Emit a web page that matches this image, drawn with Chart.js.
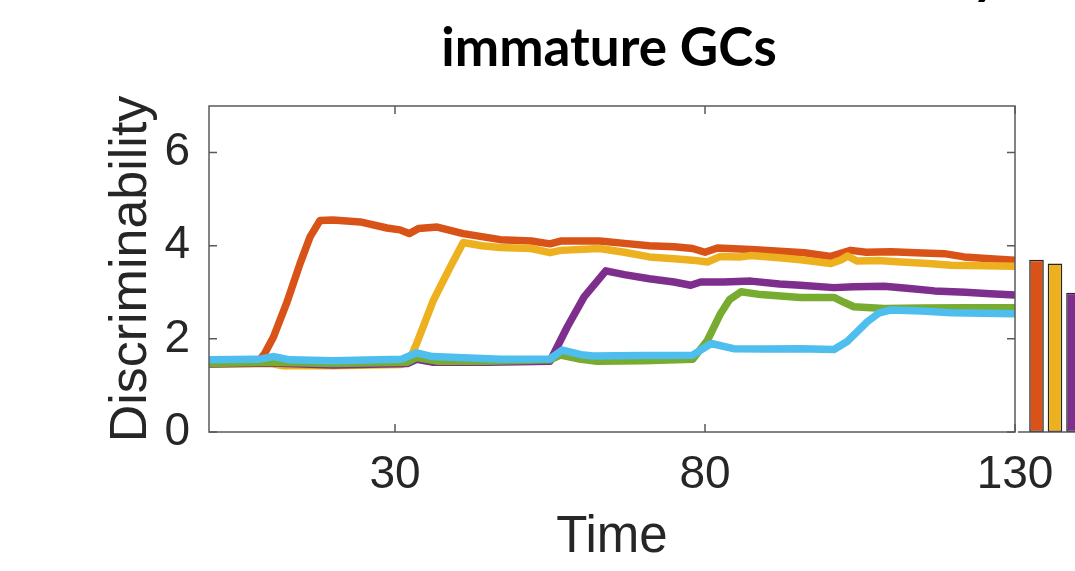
<!DOCTYPE html>
<html>
<head>
<meta charset="utf-8">
<script src="https://cdn.jsdelivr.net/npm/chart.js@4.4.0/dist/chart.umd.min.js"></script>
<style>
html, body { margin: 0; padding: 0; background: #fff; overflow: hidden; }
#wrap { position: relative; width: 1075px; height: 571px; overflow: hidden; }
.titulo { position: absolute; font-family: Lato, sans-serif; font-weight: 700; font-size: 53px; line-height: 53px; color: #000; white-space: nowrap; }
#linha1 { top: -54px; right: 75px; }
#linha2 { top: 19px; left: 0; width: 1218px; text-align: center; }
#chartLinhas { position: absolute; left: 0; top: 0; }
#chartBarras { position: absolute; left: 1018px; top: 0; }
</style>
</head>
<body>
<div id="wrap">
  <div class="titulo" id="linha1">Discriminability</div>
  <div class="titulo" id="linha2">immature GCs</div>
  <canvas id="chartLinhas" width="1075" height="571"></canvas>
  <canvas id="chartBarras" width="111" height="571"></canvas>
</div>
<script>
// eixos
const xTicks = [30, 80, 130];
const yTicks = [0, 2, 4, 6];

// curvas (tempo / discriminabilidade)
const tempoLaranja = [0, 8, 9, 10.4, 12.5, 14.7, 16.3, 17.9, 20, 24.4, 28.7, 30.8, 32.3, 33.8, 36.8, 41, 47, 52, 55, 56.7, 63, 67, 71, 75, 78, 80, 82, 87.4, 92, 96, 100.3, 103.5, 106, 110, 114, 118.6, 121.8, 126, 130];
const valLaranja   = [1.48, 1.52, 1.69, 2.04, 2.76, 3.62, 4.19, 4.54, 4.55, 4.51, 4.38, 4.34, 4.26, 4.37, 4.4, 4.26, 4.13, 4.1, 4.04, 4.1, 4.1, 4.05, 4.0, 3.98, 3.94, 3.86, 3.95, 3.92, 3.88, 3.85, 3.77, 3.9, 3.86, 3.87, 3.85, 3.83, 3.76, 3.72, 3.69];

const tempoAmarelo = [0, 10, 12, 20, 31, 32.2, 33.5, 36.2, 38.9, 41, 44, 47, 52, 55, 56.7, 63, 67, 71, 75, 78, 80.4, 82.5, 85.8, 87.4, 92, 95.4, 100.3, 102, 103, 104.5, 108, 111.6, 116, 119.7, 125, 130];
const valAmarelo   = [1.46, 1.47, 1.42, 1.42, 1.45, 1.5, 1.9, 2.83, 3.54, 4.07, 4.0, 3.96, 3.94, 3.85, 3.9, 3.94, 3.86, 3.76, 3.72, 3.69, 3.65, 3.77, 3.76, 3.79, 3.74, 3.7, 3.62, 3.7, 3.78, 3.67, 3.68, 3.65, 3.62, 3.58, 3.57, 3.56];

const tempoRoxo = [0, 10, 20, 32, 33.5, 36, 45, 55, 57.8, 60.5, 64, 67, 71, 75, 77.7, 79.3, 83, 87.4, 92, 95.4, 100.8, 104, 108.9, 113, 117, 122, 126, 130];
const valRoxo   = [1.46, 1.48, 1.44, 1.47, 1.56, 1.5, 1.5, 1.52, 2.26, 2.9, 3.46, 3.38, 3.29, 3.22, 3.15, 3.22, 3.22, 3.24, 3.18, 3.15, 3.1, 3.12, 3.13, 3.08, 3.03, 3.0, 2.97, 2.94];

const tempoVerde = [0, 10, 20, 32, 33.5, 37, 45, 55, 56.7, 60, 62.6, 70, 78, 80.4, 82.5, 84, 85.8, 89, 95.4, 100.8, 102.5, 104, 108.9, 115, 122, 130];
const valVerde   = [1.47, 1.5, 1.47, 1.5, 1.6, 1.52, 1.52, 1.55, 1.65, 1.56, 1.52, 1.53, 1.56, 1.97, 2.54, 2.85, 3.01, 2.95, 2.89, 2.89, 2.78, 2.69, 2.65, 2.66, 2.67, 2.67];

const tempoAzul = [0, 8, 10.5, 13, 20, 31, 33.5, 36, 40, 47, 55, 57, 60, 62, 70, 78, 81, 84.6, 90, 95.4, 100.8, 103, 106.2, 108, 110, 115, 119.7, 125, 130];
const valAzul   = [1.55, 1.56, 1.62, 1.55, 1.53, 1.56, 1.7, 1.62, 1.6, 1.56, 1.57, 1.76, 1.66, 1.63, 1.64, 1.65, 1.9, 1.79, 1.78, 1.79, 1.77, 1.95, 2.37, 2.55, 2.62, 2.6, 2.56, 2.55, 2.54];

// barras (so as tres primeiras aparecem)
const barX = [1, 2, 3, 4, 5];
const barValores = [3.70, 3.62, 2.99, 2.72, 2.58];

const cores = ['#D95319', '#EDB120', '#7E2F8E', '#77AC30', '#4DBEEE'];

const pontos = (t, v) => t.map((x, i) => ({ x: x, y: v[i] }));

const series = [
    { dados: pontos(tempoLaranja, valLaranja), cor: cores[0], ordem: 5 },
    { dados: pontos(tempoAmarelo, valAmarelo), cor: cores[1], ordem: 4 },
    { dados: pontos(tempoRoxo, valRoxo), cor: cores[2], ordem: 3 },
    { dados: pontos(tempoVerde, valVerde), cor: cores[3], ordem: 2 },
    { dados: pontos(tempoAzul, valAzul), cor: cores[4], ordem: 1 },
];

const corEixo = '#262626';
const fonteEixo = 'Liberation Sans, Arial, Helvetica, sans-serif';

// moldura com ticks para dentro, estilo matlab
const moldura = {
    id: 'moldura',
    afterDatasetsDraw(chart) {
        const { ctx, chartArea, scales } = chart;
        const { left, right, top, bottom } = chartArea;
        const tam = 8;
        ctx.save();
        ctx.strokeStyle = '#5a5a5a';
        ctx.lineWidth = 1.5;
        ctx.strokeRect(left, top, right - left, bottom - top);
        ctx.beginPath();
        scales.x.ticks.forEach((t) => {
            const px = scales.x.getPixelForValue(t.value);
            ctx.moveTo(px, bottom); ctx.lineTo(px, bottom - tam);
            ctx.moveTo(px, top); ctx.lineTo(px, top + tam);
        });
        scales.y.ticks.forEach((t) => {
            const py = scales.y.getPixelForValue(t.value);
            ctx.moveTo(left, py); ctx.lineTo(left + tam, py);
            ctx.moveTo(right, py); ctx.lineTo(right - tam, py);
        });
        ctx.stroke();
        ctx.restore();
    }
};

new Chart(document.getElementById('chartLinhas'), {
    type: 'line',
    data: {
        datasets: series.map((s) => ({
            data: s.dados,
            borderColor: s.cor,
            backgroundColor: s.cor,
            order: s.ordem,
        })),
    },
    options: {
        responsive: false,
        animation: false,
        layout: { padding: { left: 0, top: 106, right: 60, bottom: 0 } },
        plugins: { legend: { display: false }, tooltip: { enabled: false } },
        elements: {
            point: { radius: 0 },
            line: { borderWidth: 7.5, tension: 0, borderJoinStyle: 'round', borderCapStyle: 'round' },
        },
        scales: {
            x: {
                type: 'linear',
                min: 0,
                max: 130,
                afterBuildTicks: (s) => { s.ticks = xTicks.map((v) => ({ value: v })); },
                afterFit: (s) => { s.height = 139; },
                grid: { display: false },
                border: { display: false },
                ticks: { padding: 8, maxRotation: 0, autoSkip: false, color: corEixo, font: { family: fonteEixo, size: 46 } },
                title: { display: true, text: 'Time', color: corEixo, font: { family: fonteEixo, size: 51 }, padding: { top: 0, bottom: 2 } },
            },
            y: {
                min: 0,
                max: 7,
                afterBuildTicks: (s) => { s.ticks = yTicks.map((v) => ({ value: v })); },
                afterFit: (s) => { s.width = 209; },
                grid: { display: false },
                border: { display: false },
                ticks: { padding: 11, color: corEixo, font: { family: fonteEixo, size: 46 } },
                title: { display: true, text: 'Discriminability', color: corEixo, font: { family: fonteEixo, size: 52 }, padding: { top: 100, bottom: 0 } },
            },
        },
    },
    plugins: [moldura],
});

// linha de base do grafico de barras
const linhaBase = {
    id: 'linhaBase',
    afterDatasetsDraw(chart) {
        const { ctx, chartArea } = chart;
        ctx.save();
        ctx.strokeStyle = '#5a5a5a';
        ctx.lineWidth = 1.5;
        ctx.beginPath();
        ctx.moveTo(chartArea.left, chartArea.bottom);
        ctx.lineTo(chartArea.right, chartArea.bottom);
        ctx.stroke();
        ctx.restore();
    }
};

new Chart(document.getElementById('chartBarras'), {
    type: 'bar',
    data: {
        datasets: [{
            data: barX.map((x, i) => ({ x: x, y: barValores[i] })),
            backgroundColor: cores,
            borderColor: '#262626',
            borderWidth: 1.5,
            borderSkipped: false,
            barPercentage: 0.79,
            categoryPercentage: 1,
        }],
    },
    options: {
        responsive: false,
        animation: false,
        layout: { padding: { left: 0, top: 106, right: 0, bottom: 139 } },
        plugins: { legend: { display: false }, tooltip: { enabled: false } },
        scales: {
            x: { type: 'linear', min: 0, max: 6, offset: false, display: false },
            y: { min: 0, max: 7, display: false },
        },
    },
    plugins: [linhaBase],
});
</script>
</body>
</html>
